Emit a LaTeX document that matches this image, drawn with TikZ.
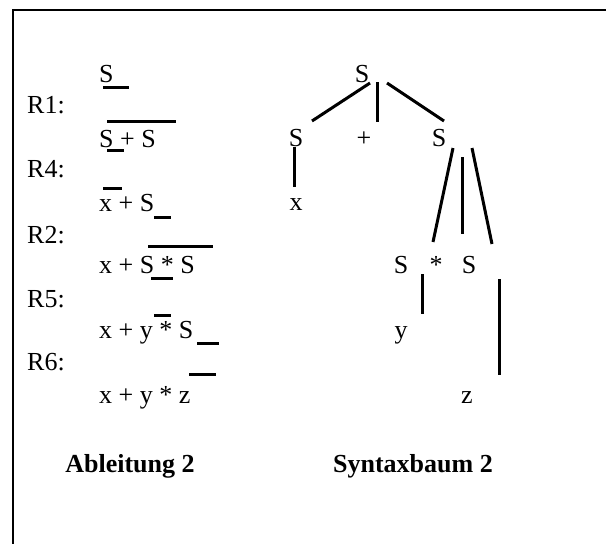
\documentclass[tikz,border=0pt]{standalone}
\usepackage{fontspec}
\setmainfont{Liberation Serif}
\begin{document}
\begin{tikzpicture}[x=1pt,y=-1pt,
  txt/.style={inner sep=0pt,font=\fontsize{26}{30}\selectfont},
  lt/.style={txt,anchor=base west},
  ct/.style={txt,anchor=base},
  ttl/.style={txt,anchor=base,font=\fontsize{26}{30}\selectfont\bfseries},
  bar/.style={line width=3pt},
  edge/.style={line width=3pt},
  frame/.style={line width=2.2pt}]
\useasboundingbox (0,0) rectangle (606,544);
% frame
\coordinate (fa) at (13,544);
\coordinate (fb) at (13,10);
\coordinate (fc) at (606,10);
\draw[frame] (fa) -- (fb) -- (fc);

% ---- Ableitung (left) ----
\node[lt] (e0) at (99,82) {S};
\node[lt] (e1) at (99,147) {S + S};
\node[lt] (e2) at (99,211) {x + S};
\node[lt] (e3) at (99,273) {x + S * S};
\node[lt] (e4) at (99,338) {x + y * S};
\node[lt] (e5) at (99,403) {x + y * z};

\node[lt] (r1) at (27,113) {R1:};
\node[lt] (r4) at (27,177) {R4:};
\node[lt] (r2) at (27,243) {R2:};
\node[lt] (r5) at (27,307) {R5:};
\node[lt] (r6) at (27,370) {R6:};

% marking bars
\coordinate (b1a) at (103,87);  \coordinate (b1b) at (129,87);
\coordinate (b2a) at (107,121); \coordinate (b2b) at (176,121);
\coordinate (b3a) at (107,150); \coordinate (b3b) at (124,150);
\coordinate (b4a) at (103,188); \coordinate (b4b) at (122,188);
\coordinate (b5a) at (154,217); \coordinate (b5b) at (171,217);
\coordinate (b6a) at (148,246); \coordinate (b6b) at (213,246);
\coordinate (b7a) at (151,278); \coordinate (b7b) at (173,278);
\coordinate (b8a) at (154,315); \coordinate (b8b) at (171,315);
\coordinate (b9a) at (197,343); \coordinate (b9b) at (219,343);
\coordinate (bAa) at (189,374); \coordinate (bAb) at (216,374);
\foreach \b in {b1,b2,b3,b4,b5,b6,b7,b8,b9,bA}
  \draw[bar] (\b a) -- (\b b);

\node[ttl] (t1) at (130,472) {Ableitung 2};

% ---- Syntaxbaum (right) ----
\node[ct] (root) at (362,82) {S};
\node[ct] (sl) at (296,146) {S};
\node[ct] (plus) at (364,146) {+};
\node[ct] (sr) at (439,146) {S};
\node[ct] (x) at (296,210) {x};
\node[ct] (s2) at (401,273) {S};
\node[ct] (star) at (436,273) {*};
\node[ct] (s3) at (469,273) {S};
\node[ct] (y) at (401,338) {y};
\node[ct] (z) at (467,403) {z};

\coordinate (k1a) at (370,83); \coordinate (k1b) at (312,121);
\coordinate (k2a) at (377,82); \coordinate (k2b) at (377,122);
\coordinate (k3a) at (387,83); \coordinate (k3b) at (444,121);
\coordinate (k4a) at (294,147); \coordinate (k4b) at (294,187);
\coordinate (k5a) at (453,148); \coordinate (k5b) at (433,242);
\coordinate (k6a) at (462,157); \coordinate (k6b) at (462,234);
\coordinate (k7a) at (472,148); \coordinate (k7b) at (492,244);
\coordinate (k8a) at (422,274); \coordinate (k8b) at (422,314);
\coordinate (k9a) at (499,279); \coordinate (k9b) at (499,375);
\foreach \k in {k1,k2,k3,k4,k5,k6,k7,k8,k9}
  \draw[edge] (\k a) -- (\k b);

\node[ttl] (t2) at (413,472) {Syntaxbaum 2};
\end{tikzpicture}
\end{document}
